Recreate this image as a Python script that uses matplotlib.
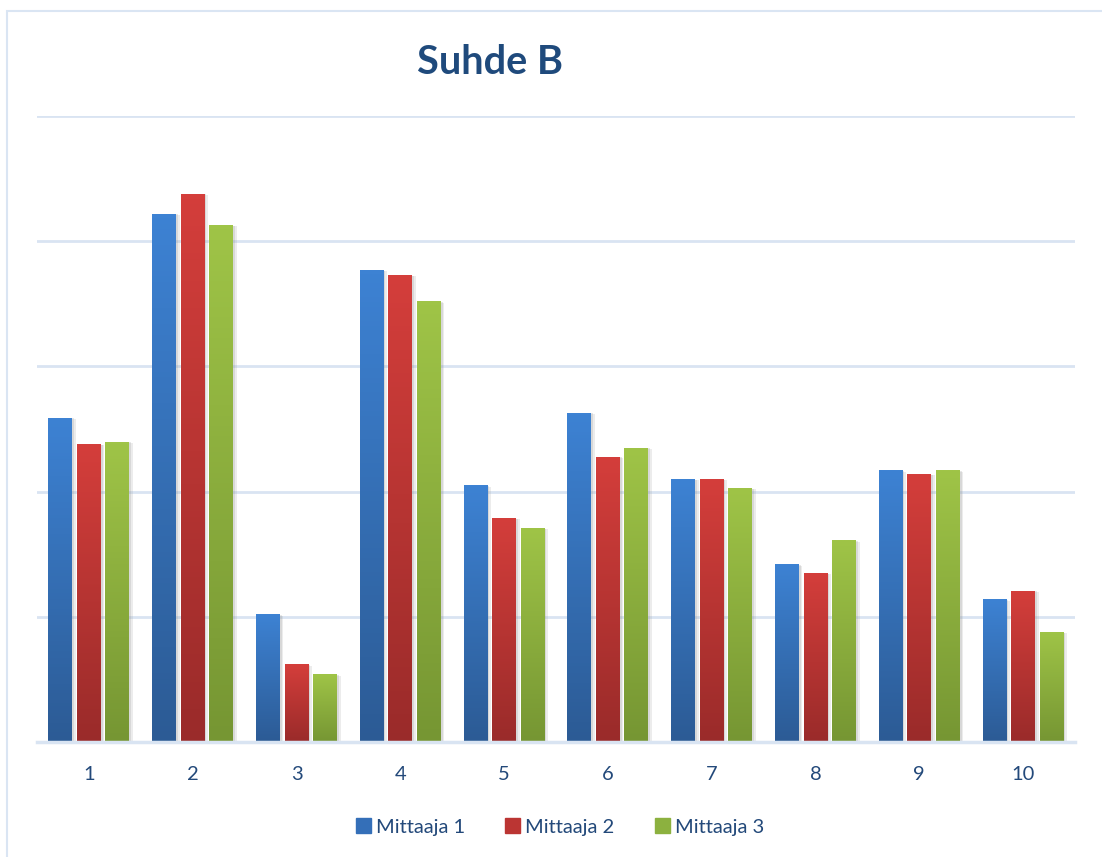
import numpy as np
import matplotlib.pyplot as plt
import matplotlib.patheffects as pe
from matplotlib.colors import LinearSegmentedColormap
from matplotlib.patches import Rectangle

# measurement rounds and the three measurers' readings
categories = ['1', '2', '3', '4', '5', '6', '7', '8', '9', '10']
series_names = ['Mittaaja 1', 'Mittaaja 2', 'Mittaaja 3']
mittaaja1 = [2.59, 4.22, 1.02, 3.77, 2.05, 2.63, 2.10, 1.42, 2.17, 1.14]
mittaaja2 = [2.38, 4.38, 0.62, 3.73, 1.79, 2.28, 2.10, 1.35, 2.14, 1.21]
mittaaja3 = [2.40, 4.13, 0.54, 3.52, 1.71, 2.35, 2.03, 1.61, 2.17, 0.88]

# (top, bottom) gradient colours per series
grad_colors = [('#3d82d3', '#2c5b95'), ('#d43e3b', '#9a2b2a'), ('#9fc447', '#769633')]
legend_colors = ['#346fb8', '#bb3533', '#8cb13f']
text_color = '#23497a'
grid_color = '#d9e4f2'

fig = plt.figure(figsize=(11.02, 8.57), dpi=100)
plt.rcParams['font.family'] = ['Lato', 'DejaVu Sans']

# chart frame
fig.patches.append(Rectangle((7 / 1102, -0.1), 1.2, (857 - 11) / 857 + 0.1,
                             transform=fig.transFigure, fill=False,
                             edgecolor='#dae5f3', linewidth=1.5))

ax = fig.add_axes([37 / 1102, 115 / 857, 1038 / 1102, 626 / 857])

x = np.arange(1, len(categories) + 1)
width = 0.231
offsets = [-0.275, 0, 0.275]
values = [mittaaja1, mittaaja2, mittaaja3]

shadow = [pe.SimplePatchShadow(offset=(2.5, -1), shadow_rgbFace='#999999', alpha=0.18),
          pe.SimplePatchShadow(offset=(1.2, -0.5), shadow_rgbFace='#888888', alpha=0.2),
          pe.Normal()]

for vals, off, (top, bot), name, lc in zip(values, offsets, grad_colors, series_names, legend_colors):
    bars = ax.bar(x + off, vals, width, color=lc, label=name, zorder=3, path_effects=shadow)
    cmap = LinearSegmentedColormap.from_list(name, [bot, top])
    for b in bars:
        bx, bw, bh = b.get_x(), b.get_width(), b.get_height()
        im = ax.imshow(np.linspace(0, 1, 100).reshape(-1, 1), cmap=cmap, origin='lower',
                       extent=[bx, bx + bw, 0, bh], aspect='auto', zorder=4)
        im.set_clip_path(b)

ax.set_xlim(0.5, 10.5)
ax.set_ylim(0, 5)

ax.set_yticks([0, 1, 2, 3, 4, 5])
ax.set_yticklabels([])
ax.yaxis.grid(True, color=grid_color, linewidth=2, zorder=0)
ax.set_axisbelow(True)
ax.tick_params(axis='y', length=0)
ax.set_xticks(x)
ax.set_xticklabels(categories, fontsize=14.5, color=text_color)
ax.tick_params(axis='x', length=0, pad=17)
for s in ['top', 'right', 'left']:
    ax.spines[s].set_visible(False)
ax.spines['bottom'].set_color(grid_color)
ax.spines['bottom'].set_linewidth(2.5)
ax.spines['bottom'].set_zorder(5)

fig.text(490 / 1102, 1 - 62 / 857, 'Suhde B', ha='center', va='center',
         fontsize=28.5, fontweight='bold', color='#1f4a7c')

handles = [Rectangle((0, 0), 1, 1, color=c) for c in legend_colors]
leg = fig.legend(handles, series_names, loc='center', bbox_to_anchor=(560 / 1102, 1 - 827 / 857),
                 ncol=3, frameon=False, fontsize=14.5, handlelength=0.75, handleheight=0.75,
                 handletextpad=0.25, columnspacing=2.0)
for t in leg.get_texts():
    t.set_color(text_color)

fig.savefig('out.png', dpi=100)
